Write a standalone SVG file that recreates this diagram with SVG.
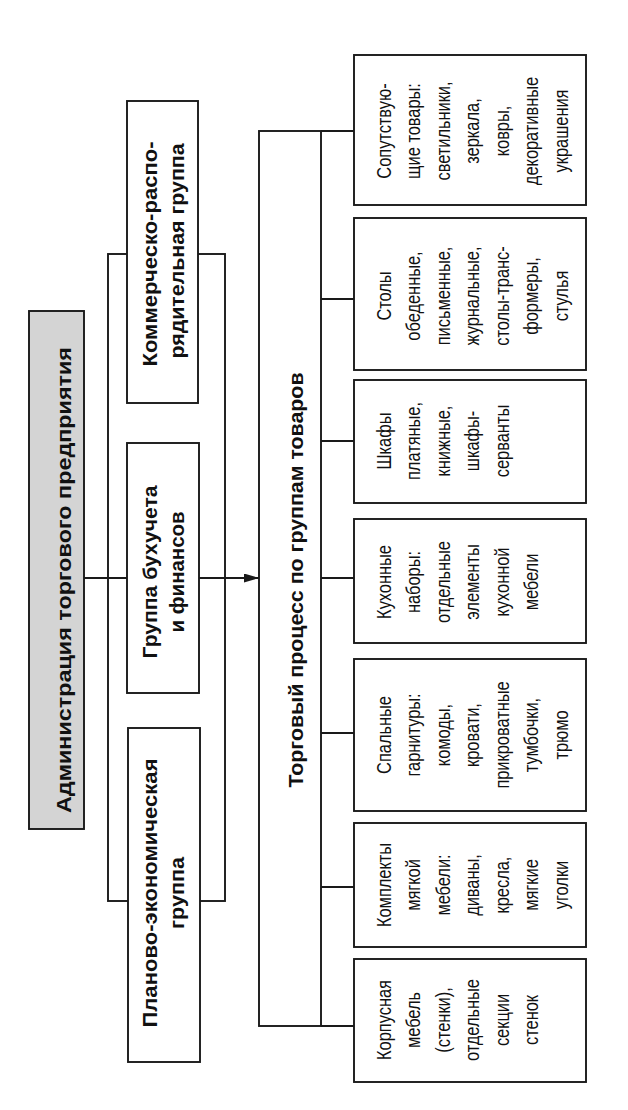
<svg xmlns="http://www.w3.org/2000/svg" width="628" height="1110" viewBox="0 0 628 1110">
<defs>
<style>
.bx{fill:#fff;stroke:#1a1a1a;stroke-width:1.9}
.br{fill:none;stroke:#1a1a1a;stroke-width:1.9}
.ln{fill:none;stroke:#1a1a1a;stroke-width:1.9}
.hd{font-family:"Liberation Sans",Arial,sans-serif;font-weight:bold;font-size:20px;fill:#111;text-anchor:middle}
.lf{font-family:"Liberation Sans",Arial,sans-serif;font-size:20px;fill:#111;text-anchor:middle}
</style>
<marker id="ah" markerWidth="15" markerHeight="9" refX="15" refY="4.5" orient="auto" markerUnits="userSpaceOnUse">
<path d="M0,0 L15,4.5 L0,9 Z" fill="#1a1a1a"/>
</marker>
</defs>
<rect width="628" height="1110" fill="#fff"/>

<g id="connectors">
<rect class="br" x="108" y="254" width="117" height="647"/>
<line class="ln" x1="84" y1="578" x2="127" y2="578"/>
<line class="ln" x1="199" y1="578" x2="259" y2="578" marker-end="url(#ah)"/>
<line class="ln" x1="321" y1="131" x2="354" y2="131"/>
<line class="ln" x1="321" y1="299" x2="354" y2="299"/>
<line class="ln" x1="321" y1="441" x2="354" y2="441"/>
<line class="ln" x1="321" y1="578" x2="354" y2="578"/>
<line class="ln" x1="321" y1="733" x2="354" y2="733"/>
<line class="ln" x1="321" y1="887" x2="354" y2="887"/>
<line class="ln" x1="321" y1="1026" x2="354" y2="1026"/>
</g>

<g id="admin">
<rect x="29" y="311" width="55" height="518" fill="#d4d4d4" stroke="#1a1a1a" stroke-width="1.9"/>
<text class="hd" transform="translate(0,580) rotate(-90)" y="71" textLength="466" lengthAdjust="spacingAndGlyphs">Администрация торгового предприятия</text>
</g>

<g id="komm">
<rect class="bx" x="127" y="101" width="71" height="302"/>
<g transform="translate(0,254) rotate(-90)">
<text class="hd" y="157" textLength="225" lengthAdjust="spacingAndGlyphs">Коммерческо-распо-</text>
<text class="hd" x="3" y="184" textLength="215" lengthAdjust="spacingAndGlyphs">рядительная группа</text>
</g>
</g>

<g id="buh">
<rect class="bx" x="127" y="443" width="72" height="250"/>
<g transform="translate(0,572) rotate(-90)">
<text class="hd" y="157" textLength="173" lengthAdjust="spacingAndGlyphs">Группа бухучета</text>
<text class="hd" y="184" textLength="121" lengthAdjust="spacingAndGlyphs">и финансов</text>
</g>
</g>

<g id="plan">
<rect class="bx" x="128" y="728" width="72" height="334"/>
<g transform="translate(0,893) rotate(-90)">
<text class="hd" y="157" textLength="269" lengthAdjust="spacingAndGlyphs">Планово-экономическая</text>
<text class="hd" y="184" textLength="72" lengthAdjust="spacingAndGlyphs">группа</text>
</g>
</g>

<g id="trade">
<rect class="bx" x="259" y="131" width="62" height="895"/>
<text class="hd" transform="translate(0,580) rotate(-90)" y="303" textLength="415" lengthAdjust="spacingAndGlyphs">Торговый процесс по группам товаров</text>
</g>

<g id="leaf1">
<rect class="bx" x="354" y="55" width="232" height="150"/>
<g transform="translate(0,131) rotate(-90) scale(0.82,1)">
<text class="lf" y="391">Сопутствую-</text>
<text class="lf" y="420.5">щие товары:</text>
<text class="lf" y="450">светильники,</text>
<text class="lf" y="479.5">зеркала,</text>
<text class="lf" y="509">ковры,</text>
<text class="lf" y="538.5">декоративные</text>
<text class="lf" y="568">украшения</text>
</g>
</g>

<g id="leaf2">
<rect class="bx" x="354" y="218" width="232" height="152"/>
<g transform="translate(0,296) rotate(-90) scale(0.82,1)">
<text class="lf" y="391">Столы</text>
<text class="lf" y="420.5">обеденные,</text>
<text class="lf" y="450">письменные,</text>
<text class="lf" y="479.5">журнальные,</text>
<text class="lf" y="509">столы-транс-</text>
<text class="lf" y="538.5">формеры,</text>
<text class="lf" y="568">стулья</text>
</g>
</g>

<g id="leaf3">
<rect class="bx" x="354" y="380" width="232" height="123"/>
<g transform="translate(0,441) rotate(-90) scale(0.82,1)">
<text class="lf" y="391">Шкафы</text>
<text class="lf" y="420.5">платяные,</text>
<text class="lf" y="450">книжные,</text>
<text class="lf" y="479.5">шкафы-</text>
<text class="lf" y="509">серванты</text>
</g>
</g>

<g id="leaf4">
<rect class="bx" x="354" y="519" width="232" height="124"/>
<g transform="translate(0,582) rotate(-90) scale(0.82,1)">
<text class="lf" y="391">Кухонные</text>
<text class="lf" y="420.5">наборы:</text>
<text class="lf" y="450">отдельные</text>
<text class="lf" y="479.5">элементы</text>
<text class="lf" y="509">кухонной</text>
<text class="lf" y="538.5">мебели</text>
</g>
</g>

<g id="leaf5">
<rect class="bx" x="354" y="659" width="232" height="152"/>
<g transform="translate(0,735) rotate(-90) scale(0.82,1)">
<text class="lf" y="391">Спальные</text>
<text class="lf" y="420.5">гарнитуры:</text>
<text class="lf" y="450">комоды,</text>
<text class="lf" y="479.5">кровати,</text>
<text class="lf" y="509">прикроватные</text>
<text class="lf" y="538.5">тумбочки,</text>
<text class="lf" y="568">трюмо</text>
</g>
</g>

<g id="leaf6">
<rect class="bx" x="354" y="823" width="232" height="124"/>
<g transform="translate(0,885) rotate(-90) scale(0.82,1)">
<text class="lf" y="391">Комплекты</text>
<text class="lf" y="420.5">мягкой</text>
<text class="lf" y="450">мебели:</text>
<text class="lf" y="479.5">диваны,</text>
<text class="lf" y="509">кресла,</text>
<text class="lf" y="538.5">мягкие</text>
<text class="lf" y="568">уголки</text>
</g>
</g>

<g id="leaf7">
<rect class="bx" x="354" y="959" width="232" height="123"/>
<g transform="translate(0,1020) rotate(-90) scale(0.82,1)">
<text class="lf" y="391">Корпусная</text>
<text class="lf" y="420.5">мебель</text>
<text class="lf" y="450">(стенки),</text>
<text class="lf" y="479.5">отдельные</text>
<text class="lf" y="509">секции</text>
<text class="lf" y="538.5">стенок</text>
</g>
</g>
</svg>
